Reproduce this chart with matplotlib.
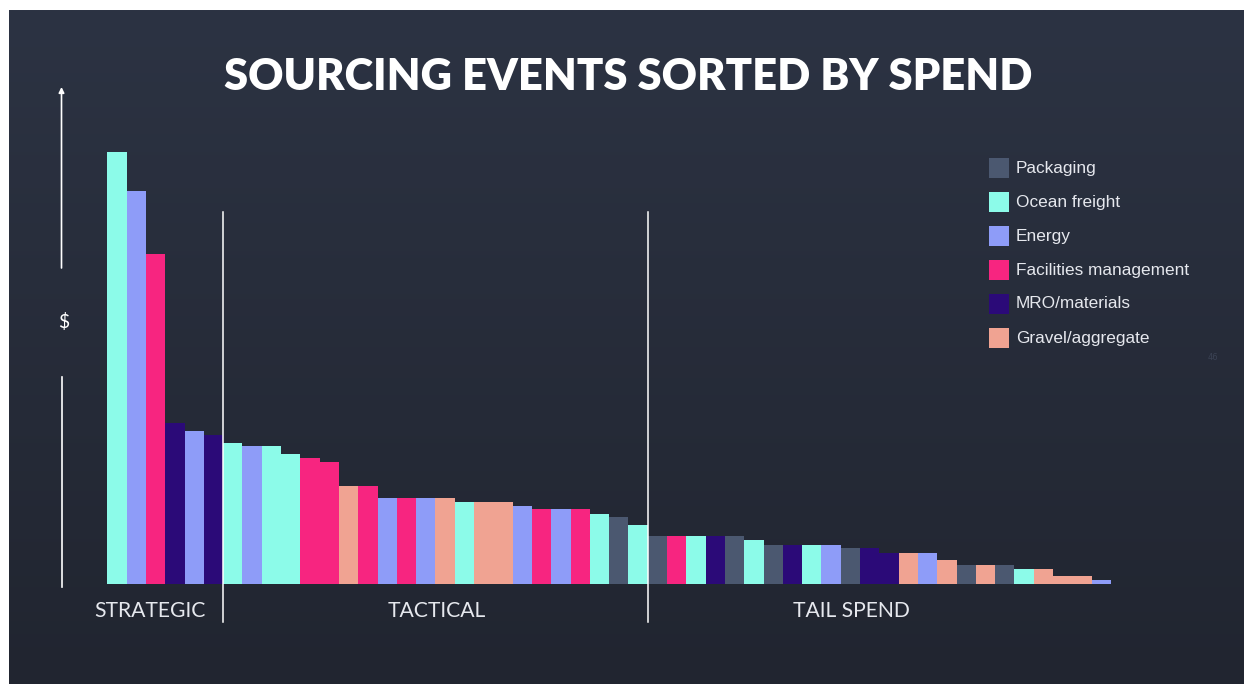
import numpy as np
import matplotlib
matplotlib.use("Agg")
import matplotlib.pyplot as plt
from matplotlib.patches import Rectangle

# ---------------- data ----------------
categories = ["Packaging", "Ocean freight", "Energy", "Facilities management",
              "MRO/materials", "Gravel/aggregate"]
cat_colors = ["#4b5870", "#8cfbe9", "#8e9cf8", "#f72580", "#2b0a78", "#f0a392"]

# category index of each sourcing event (sorted by spend)
event_cat = [1, 2, 3, 4, 2, 4,            # strategic
             1, 2, 1, 1, 3, 3, 5, 3, 2, 3, 2, 5, 1, 5, 5, 2, 3, 2, 3, 1, 0, 1,   # tactical
             0, 3, 1, 4, 0, 1, 0, 4, 1, 2, 0, 4, 4, 5, 2, 5, 0, 5, 0, 1, 5, 5, 5, 2]  # tail
event_spend = [432, 393, 330, 161, 153, 149,
               141, 138, 138, 130, 126, 122, 98, 98, 86, 86, 86, 86, 82, 82, 82, 78, 75, 75, 75, 70, 67, 59,
               48, 48, 48, 48, 48, 44, 39, 39, 39, 39, 36, 36, 31, 31, 31, 24, 19, 19, 19, 15, 15, 8, 8, 4]
segment_labels = ["STRATEGIC", "TACTICAL", "TAIL SPEND"]
segment_sizes = [6, 22, 24]
title = "SOURCING EVENTS SORTED BY SPEND"
y_label = "$"

# ---------------- figure ----------------
W, H = 1244, 684
fig = plt.figure(figsize=(W / 100, H / 100), dpi=100)
fig.patch.set_facecolor("white")

# background gradient (white border top/left as in screenshot)
bg = fig.add_axes([9 / W, 0, (W - 9) / W, (H - 10) / H])
bg.set_axis_off()
top = np.array([0x2c, 0x33, 0x43]) / 255
bot = np.array([0x21, 0x25, 0x30]) / 255
t = np.linspace(0, 1, 256)[:, None, None]
grad = top * (1 - t) + bot * t
grad = np.repeat(grad, 2, axis=1)
bg.imshow(grad, aspect="auto", extent=[0, 1, 0, 1])

# bars axes
bw = 19.3
x0 = 107.3
base = 584.3
n = len(event_spend)
ax = fig.add_axes([x0 / W, (H - base) / H, n * bw / W, 432 / H])
ax.set_xlim(0, n)
ax.set_ylim(0, 432)
ax.set_axis_off()
ax.patch.set_alpha(0)
xs = np.arange(n)
ax.bar(xs, event_spend, width=1.0, align="edge",
       color=[cat_colors[c] for c in event_cat], linewidth=0)

# overlay in pixel coordinates
ov = fig.add_axes([0, 0, 1, 1])
ov.set_xlim(0, W)
ov.set_ylim(H, 0)
ov.set_axis_off()
ov.patch.set_alpha(0)

ov.text(628, 77, title, ha="center", va="center", color="white",
        fontsize=31.3, fontweight="heavy", family="Lato")

# y arrow with $
ov.annotate("", xy=(61.5, 87), xytext=(61.5, 268),
            arrowprops=dict(arrowstyle="-|>", color="white", lw=1.2,
                            mutation_scale=8, shrinkA=0, shrinkB=0))
ov.plot([61.5, 61.5], [377, 587], color="white", lw=1.2)
ov.text(64, 322, y_label, ha="center", va="center", color="white",
        fontsize=14, family="Lato")

# segment separators and labels
bounds = np.cumsum([0] + segment_sizes)
for b in bounds[1:-1]:
    px = x0 + b * bw
    ov.plot([px, px], [212, 622], color="white", lw=1.1)
seg_centers = [150, 437, 851]
for lab, cx in zip(segment_labels, seg_centers):
    ov.text(cx, 611, lab, ha="center", va="center", color="#e6e8ee",
            fontsize=15.2, family="Lato")

# legend
for i, (name, col) in enumerate(zip(categories, cat_colors)):
    yy = 168 + i * 34
    ov.add_patch(Rectangle((989, yy - 10), 20, 20, color=col, lw=0))
    ov.text(1016, yy, name, ha="left", va="center", color="#e6e8ee",
            fontsize=12.4, family="Liberation Sans")

ov.text(1213, 357, "46", ha="center", va="center", color="#3b4254", fontsize=6)

fig.savefig("out.png", dpi=100, facecolor=fig.get_facecolor())
